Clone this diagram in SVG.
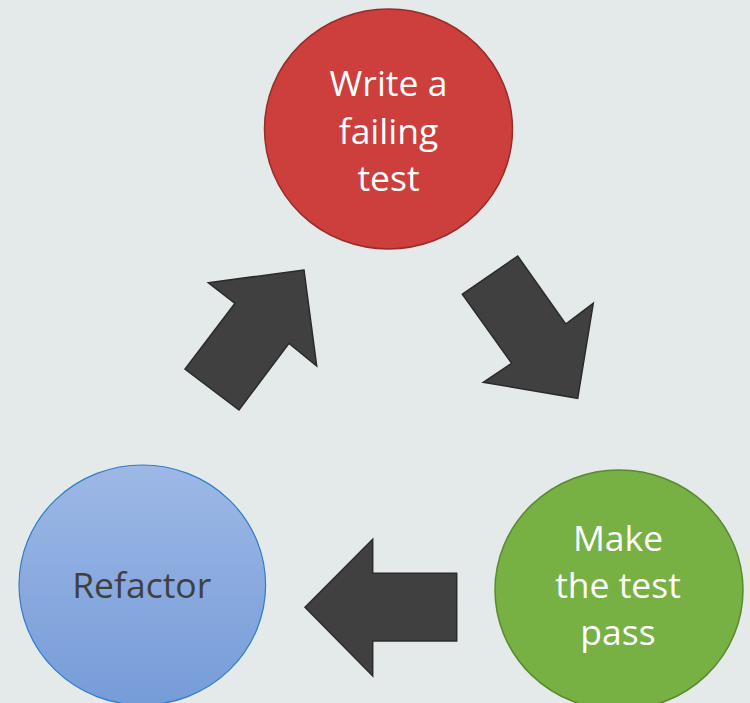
<svg xmlns="http://www.w3.org/2000/svg" width="750" height="703" viewBox="0 0 750 703">
<defs>
<linearGradient id="blueGrad" x1="0" y1="0" x2="0" y2="1">
<stop offset="0" stop-color="#9db8e6"/>
<stop offset="1" stop-color="#769cd8"/>
</linearGradient>
<style>
.lbl{font-family:"Open Sans","Noto Sans","DejaVu Sans",sans-serif;font-size:35.5px;text-anchor:middle}
.arrow{fill:#404040;stroke:#2b2b2b;stroke-width:1.5;stroke-linejoin:miter}
</style>
</defs>
<rect width="750" height="703" fill="#e4eaea"/>
<g id="connectors">
<polygon class="arrow" points="304,270 208.3,282.7 235,303.3 185,369 239,410 289,343.3 316.7,366"/>
<polygon class="arrow" points="517.7,256 462.3,294.3 511.7,363.3 483.3,382.3 577.7,398.3 593.3,303.3 565.7,324"/>
<polygon class="arrow" points="305,607.3 372.7,539.3 372.7,573.3 456.7,573.3 456.7,641 372.7,641 372.7,676"/>
</g>
<g id="write-failing-test">
<ellipse cx="388.5" cy="129" rx="124" ry="120" fill="#cc3f3c" stroke="#9a2b29" stroke-width="1.5"/>
<text class="lbl" fill="#ffffff"><tspan x="388.5" y="95.5">Write a</tspan><tspan x="388.5" y="143.5">failing</tspan><tspan x="388.5" y="191">test</tspan></text>
</g>
<g id="make-test-pass">
<ellipse cx="619" cy="590" rx="124" ry="120" fill="#77b043" stroke="#5a8a2f" stroke-width="1.5"/>
<text class="lbl" fill="#ffffff"><tspan x="618" y="551">Make</tspan><tspan x="618" y="598">the test</tspan><tspan x="618" y="645">pass</tspan></text>
</g>
<g id="refactor">
<ellipse cx="142.3" cy="585" rx="123.3" ry="120" fill="url(#blueGrad)" stroke="#2f7cc8" stroke-width="1.2"/>
<text class="lbl" fill="#404040" x="141.7" y="597.5">Refactor</text>
</g>
</svg>
